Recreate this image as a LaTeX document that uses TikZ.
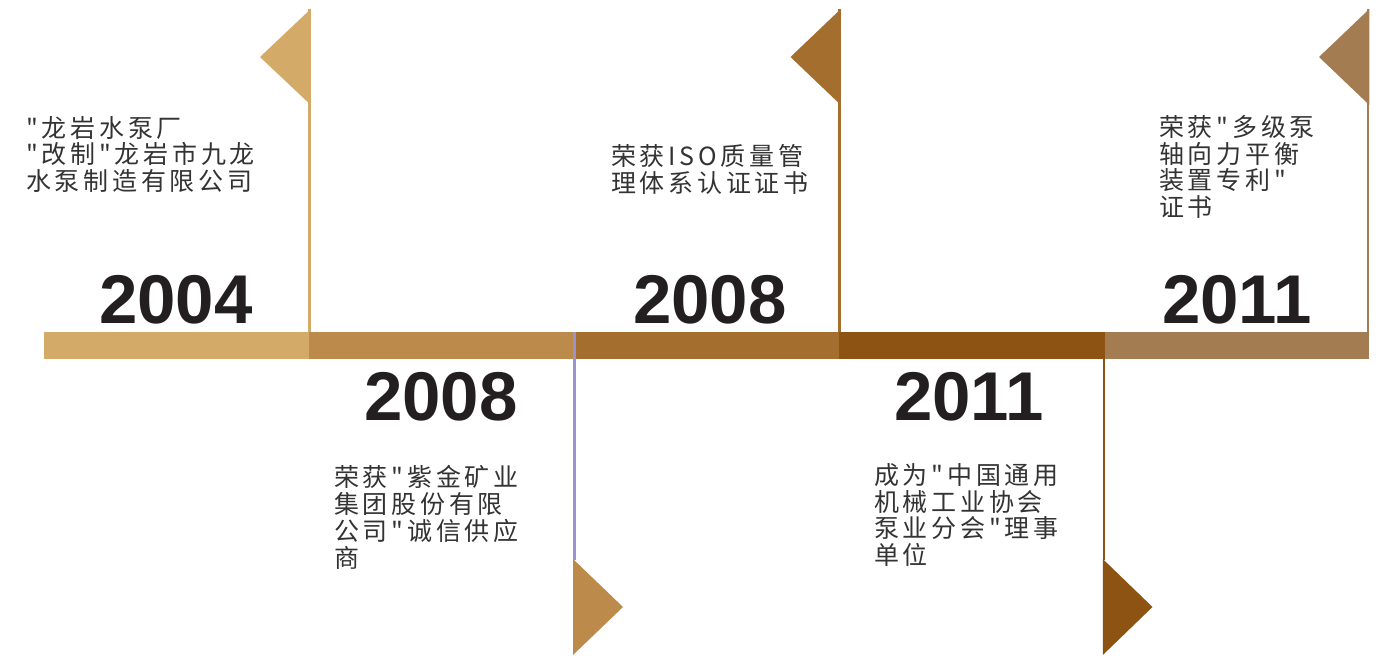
\documentclass[tikz,border=0pt]{standalone}
\usepackage{fontspec}
\setmainfont{Liberation Sans}
\newfontfamily\cjk[LetterSpace=15]{Noto Sans CJK SC}
\newfontfamily\yearfont{Liberation Sans}
\definecolor{cA}{HTML}{D3AA67}
\definecolor{cB}{HTML}{BC8A4B}
\definecolor{cC}{HTML}{A46F2E}
\definecolor{cD}{HTML}{8D5313}
\definecolor{cE}{HTML}{A37C52}
\definecolor{lav}{HTML}{9B93CF}
\definecolor{yeartext}{HTML}{231F20}
\definecolor{desctext}{HTML}{333333}
\tikzset{
  yeartxt/.style={font=\yearfont\bfseries\fontsize{69}{69}\selectfont, text=yeartext, inner sep=0pt, anchor=base west},
  desc/.style={font=\cjk\fontsize{25}{26.7}\selectfont, text=desctext, align=left, inner sep=0pt, anchor=base west},
  pole/.style={line width=2.6pt},
}
\begin{document}
\begin{tikzpicture}[x=1pt,y=-1pt]
\useasboundingbox (0,0) rectangle (1385,658);
% bar segments
\fill[cA] (44,332) rectangle (309,358.5);
\fill[cB] (309,332) rectangle (574.5,358.5);
\fill[cC] (574.5,332) rectangle (839,358.5);
\fill[cD] (839,332) rectangle (1105,358.5);
\fill[cE] (1105,332) rectangle (1369,358.5);
% top flags
\draw[cA,pole] (309.5,9) -- (309.5,332);
\fill[cA] (310.8,9) -- (260,57) -- (310.8,105) -- cycle;
\draw[cC,pole] (839.5,9) -- (839.5,332);
\fill[cC] (840.8,9) -- (790.5,57) -- (840.8,105) -- cycle;
\draw[cE,pole] (1368,9) -- (1368,332);
\fill[cE] (1369.3,9) -- (1319,57) -- (1369.3,105) -- cycle;
% bottom flags
\draw[lav,pole] (574.3,332) -- (574.3,560);
\fill[cB] (573,559) -- (623,607) -- (573,655) -- cycle;
\draw[cD,pole] (1104,358) -- (1104,560);
\fill[cD] (1102.8,559) -- (1152.5,607) -- (1102.8,655) -- cycle;
% years
\node[yeartxt] (y2004) at (99,323) {2004};
\node[yeartxt] (y2008a) at (633,323) {2008};
\node[yeartxt] (y2011a) at (1162,323) {2011};
\node[yeartxt] (y2008b) at (364,420) {2008};
\node[yeartxt] (y2011b) at (894,420) {2011};
% descriptions (anchored at the baseline of the last line)
\node[desc] (d1) at (26,190.5) {"龙岩水泵厂\\"改制"龙岩市九龙\\水泵制造有限公司};
\node[desc] (d2) at (611,192.3) {荣获ISO质量管\\理体系认证证书};
\node[desc] (d3) at (1159,216.5) {荣获"多级泵\\轴向力平衡\\装置专利"\\证书};
\node[desc] (d4) at (334,567) {荣获"紫金矿业\\集团股份有限\\公司"诚信供应\\商};
\node[desc] (d5) at (874,564.5) {成为"中国通用\\机械工业协会\\泵业分会"理事\\单位};
\end{tikzpicture}
\end{document}
